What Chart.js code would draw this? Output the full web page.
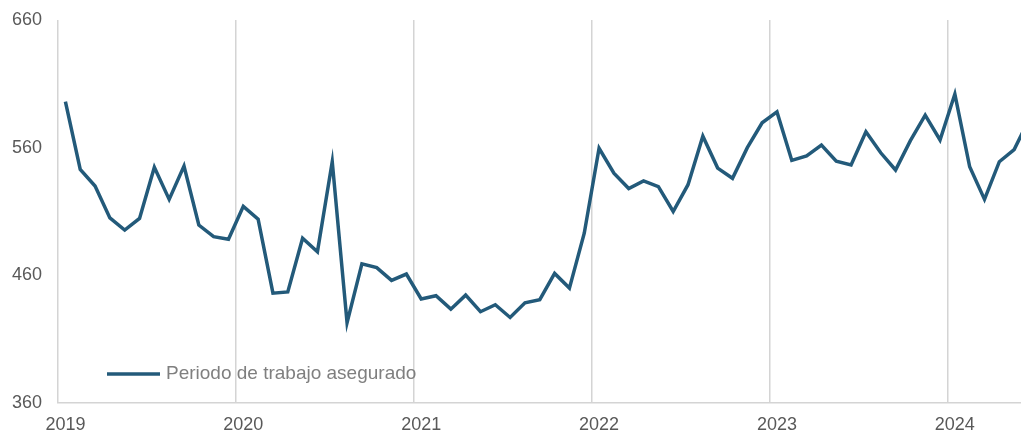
<!DOCTYPE html>
<html>
<head>
<meta charset="utf-8">
<script src="https://cdn.jsdelivr.net/npm/chart.js@4.4.1/dist/chart.umd.min.js"></script>
<style>
  html, body { margin: 0; padding: 0; background: #fff; overflow: hidden; }
  #wrap { position: relative; width: 1040px; height: 432px; }
</style>
</head>
<body>
<div id="wrap"><canvas id="chart"></canvas></div>
<script>
// Serie mensual, enero 2019 - junio 2024
const years = ['2019', '2020', '2021', '2022', '2023', '2024'];
const values2019 = [596, 543, 530, 505, 495.5, 504.6, 544.6, 519.5, 545.6, 499.4, 490.3, 488.2];
const values2020 = [514, 504, 446, 447, 489, 478.5, 549, 423, 469, 466, 456, 461];
const values2021 = [441.5, 444, 433.5, 444.5, 431.5, 437, 427, 438.5, 441, 461.5, 450, 493];
const values2022 = [559.5, 540, 528, 534, 529.5, 510, 531, 569, 544, 536, 560, 579.5];
const values2023 = [588, 550, 553.5, 562, 549.5, 546.5, 572.5, 556, 542.5, 565.5, 585.5, 566];
const values2024 = [602, 545, 519.5, 549, 558.5, 582];
const yTicks = [360, 460, 560, 660];
const seriesLabel = 'Periodo de trabajo asegurado';

const values = [].concat(values2019, values2020, values2021, values2022, values2023, values2024);
const labels = values.map((v, i) => (i % 12 === 0 ? years[i / 12] : ''));

const lineColor = '#235a7a';
const gridColor = '#d4d4d4';
const fontFamily = '"Liberation Sans", Arial, sans-serif';

// Leyenda dibujada dentro del área del gráfico (abajo a la izquierda)
const insideLegend = {
  id: 'insideLegend',
  afterDraw(chart) {
    const ctx = chart.ctx;
    const ds = chart.data.datasets[0];
    const x0 = chart.chartArea.left + 49;
    const y0 = chart.chartArea.bottom - 29;
    ctx.save();
    ctx.strokeStyle = ds.borderColor;
    ctx.lineWidth = 3.5;
    ctx.beginPath();
    ctx.moveTo(x0, y0);
    ctx.lineTo(x0 + 53, y0);
    ctx.stroke();
    ctx.fillStyle = '#7f7f7f';
    ctx.font = '19px ' + fontFamily;
    ctx.textBaseline = 'middle';
    ctx.fillText(ds.label, x0 + 59, y0);
    ctx.restore();
  }
};

new Chart(document.getElementById('chart'), {
  type: 'line',
  data: {
    labels: labels,
    datasets: [{
      label: seriesLabel,
      data: values,
      borderColor: lineColor,
      borderWidth: 3.5,
      pointRadius: 0,
      tension: 0,
      fill: false
    }]
  },
  options: {
    responsive: true,
    maintainAspectRatio: false,
    animation: false,
    layout: { padding: { top: 20, right: 3, left: 0, bottom: 0 } },
    plugins: {
      legend: { display: false },
      tooltip: { enabled: false }
    },
    scales: {
      x: {
        type: 'category',
        offset: true,
        afterFit: (scale) => { scale.height = 29; },
        grid: {
          offset: true,
          drawTicks: false,
          lineWidth: 1.5,
          color: (c) => (c.index % 12 === 0 ? gridColor : 'rgba(0,0,0,0)')
        },
        border: { display: true, color: gridColor, width: 1.5 },
        ticks: {
          autoSkip: false,
          maxRotation: 0,
          padding: 11,
          color: '#595959',
          font: { family: fontFamily, size: 18 }
        }
      },
      y: {
        min: 360,
        max: 660,
        afterFit: (scale) => {
          scale.width = 58;
          scale.paddingTop = 0;
          scale.paddingBottom = 0;
        },
        afterBuildTicks: (scale) => { scale.ticks = yTicks.map(v => ({ value: v })); },
        grid: { display: false, drawTicks: false },
        border: { display: false },
        ticks: {
          padding: 16,
          color: '#595959',
          font: { family: fontFamily, size: 18 }
        }
      }
    }
  },
  plugins: [insideLegend]
});
</script>
</body>
</html>
